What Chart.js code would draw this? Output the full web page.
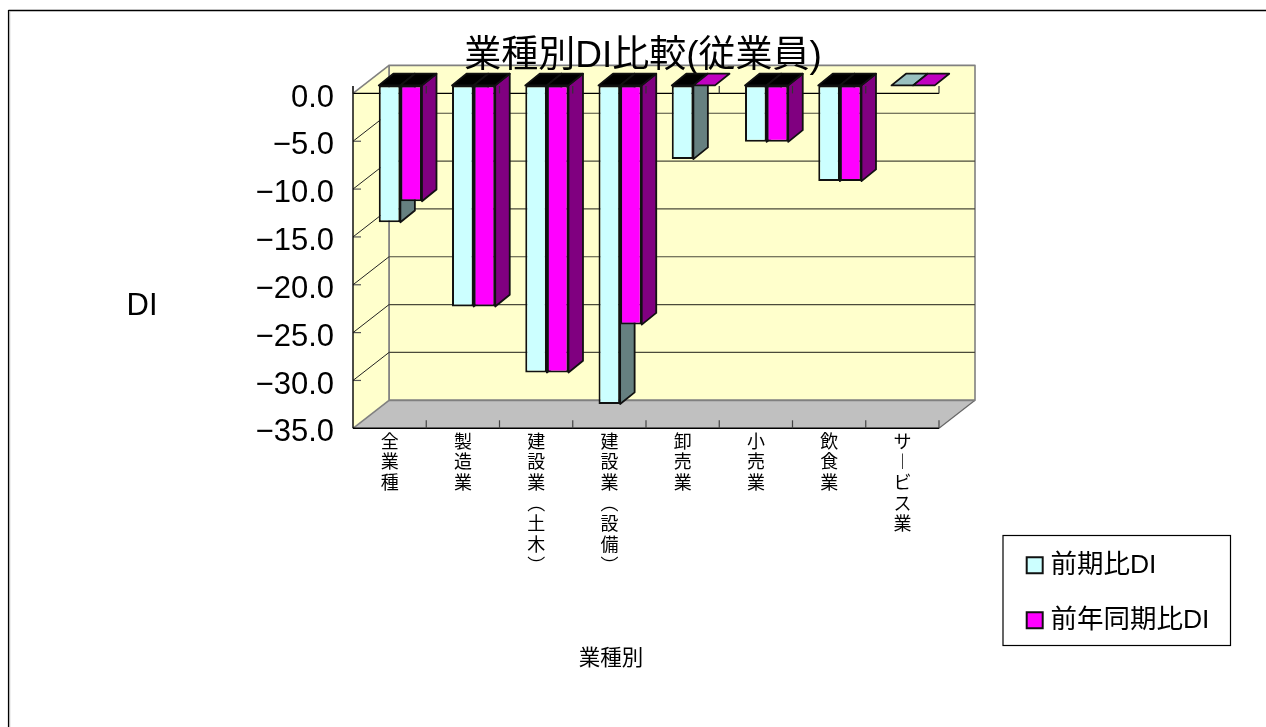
<!DOCTYPE html>
<html lang="ja"><head><meta charset="utf-8">
<style>html,body{margin:0;padding:0;background:#fff}#w{position:absolute;left:0;top:0;width:1266px;height:727px}</style>
<script src="https://cdn.jsdelivr.net/npm/chart.js@4/dist/chart.umd.min.js"></script>
</head><body><div id="w"><canvas id="c" width="1266" height="727"></canvas></div>
<script>
const categories = ['全業種','製造業','建設業(土木)','建設業(設備)','卸売業','小売業','飲食業','サービス業'];
const prevPeriodDI = [-14.3,-23.1,-30.0,-33.3,-7.7,-5.9,-10.0,0];
const prevYearDI = [-12.1,-23.1,-30.0,-25.0,0,-5.9,-10.0,0];
const seriesNames = ['前期比DI','前年同期比DI'];
const chartTitle = '業種別DI比較(従業員)';
const xTitle = '業種別';
const yTitle = 'DI';

const FONT = '"Liberation Sans","Noto Sans CJK JP",sans-serif';
const DEPTH_X = 36, DEPTH_Y = 28;      // floor/wall depth
const BAR_DX = 10.75, BAR_DY = 8;      // bar front-plane offset
const BAR_DEPTH_X = 14.5, BAR_DEPTH_Y = 11.7;
const faces = [
  {front:'#CCFFFF', side:'#668080', flat:'#99C0C0'},
  {front:'#FF00FF', side:'#800080', flat:'#C000C0'}
];
const vertical = {'(':'︵',')':'︶','ー':'︱'};

function poly(ctx, pts, fill, stroke, lw){
  ctx.beginPath();
  pts.forEach((p,i)=> i ? ctx.lineTo(p[0],p[1]) : ctx.moveTo(p[0],p[1]));
  ctx.closePath();
  if(fill){ctx.fillStyle=fill;ctx.fill();}
  if(stroke){ctx.strokeStyle=stroke;ctx.lineWidth=lw;ctx.lineJoin='round';ctx.stroke();}
}
function line(ctx,x1,y1,x2,y2,c,lw){
  ctx.beginPath();ctx.moveTo(x1,y1);ctx.lineTo(x2,y2);ctx.strokeStyle=c;ctx.lineWidth=lw;ctx.stroke();
}
function boundaries(chart){
  const s=chart.scales.x, out=[];
  const step=s.getPixelForValue(1)-s.getPixelForValue(0);
  for(let i=0;i<=categories.length;i++) out.push(s.getPixelForValue(0)-step/2+i*step);
  return out;
}
function drawBarFaces(chart,index){
  const {ctx}=chart, meta=chart.getDatasetMeta(index), f=faces[index];
  const dx=BAR_DX,dy=BAR_DY,bx=BAR_DEPTH_X,by=BAR_DEPTH_Y;
  ctx.save();
  meta.data.forEach(b=>{
    const l=b.x-b.width/2+dx, r=b.x+b.width/2+dx, t=b.base-dy, e=b.y-dy;
    const flat=Math.abs(e-t)<0.5;
    if(!flat) poly(ctx,[[r,t],[r+bx,t-by],[r+bx,e-by],[r,e]],f.side,'#111',1.8);
    poly(ctx,[[l,t],[l+bx,t-by],[r+bx,t-by],[r,t]],flat?f.flat:'#000','#111',1.8);
  });
  ctx.restore();
}
const box3d = {
  id:'box3d',
  afterLayout(chart){
    const l=chart.legend;
    const w=l.width,h=l.height;
    l.left=1003.7;l.top=523.5;l.right=l.left+w;l.bottom=l.top+h;
    const t=chart.titleBlock;
    t.left-=3;t.right-=3;
  },
  beforeDraw(chart){
    const {ctx,chartArea:a,scales:{y}}=chart;
    const dx=DEPTH_X,dy=DEPTH_Y;
    ctx.save();
    line(ctx,8.5,10.5,1266,10.5,'#000',1.5);
    line(ctx,8.5,10,8.5,727,'#000',1.2);
    line(ctx,9.7,11,9.7,727,'#aaa',1);
    poly(ctx,[[a.left+dx,a.top-dy],[a.right+dx,a.top-dy],[a.right+dx,a.bottom-dy],[a.left+dx,a.bottom-dy]],'#FFFFCC','#808080',1.6);
    poly(ctx,[[a.left,a.top],[a.left+dx,a.top-dy],[a.left+dx,a.bottom-dy],[a.left,a.bottom]],'#FFFFCC',null);
    poly(ctx,[[a.left,a.bottom],[a.left+dx,a.bottom-dy],[a.right+dx,a.bottom-dy],[a.right,a.bottom]],'#C0C0C0',null);
    line(ctx,a.left,a.top,a.left+dx,a.top-dy,'#808080',1.6);
    line(ctx,a.left,a.bottom,a.left+dx,a.bottom-dy,'#808080',1.6);
    line(ctx,a.right,a.bottom,a.right+dx,a.bottom-dy,'#666',1.2);
    line(ctx,a.left+dx,a.top-dy,a.left+dx,a.bottom-dy,'#808080',1.6);
    line(ctx,a.left+dx,a.bottom-dy,a.right+dx,a.bottom-dy,'#808080',1.8);
    y.ticks.forEach(t=>{
      if(t.value===0||t.value===-35) return;
      const p=y.getPixelForValue(t.value);
      line(ctx,a.left+dx,p-dy,a.right+dx,p-dy,'#4a4a3a',1.2);
      line(ctx,a.left,p,a.left+dx,p-dy,'#222',1);
      line(ctx,a.left,p,a.left+8,p,'#555',1.2);
    });
    line(ctx,a.left,a.top,a.right,a.top,'#000',1.2);
    line(ctx,a.left,a.bottom,a.right,a.bottom,'#000',1.6);
    line(ctx,a.left,a.top-7.5,a.left,a.bottom,'#000',1.4);
    boundaries(chart).forEach((x,i)=>{ if(i) line(ctx,x,a.bottom-8,x,a.bottom,'#444',1.2); });
    ctx.restore();
  },
  beforeDatasetDraw(chart,args){
    // The second series must paint over the first one's side face, so it is held back here
    if(args.index===1) return false;
    drawBarFaces(chart,0);
    chart.ctx.save();
    chart.ctx.translate(BAR_DX,-BAR_DY);
  },
  afterDatasetDraw(chart,args){
    const ctx=chart.ctx;
    ctx.restore();
    if(args.index===0){
      drawBarFaces(chart,1);
      ctx.save();
      ctx.translate(BAR_DX,-BAR_DY);
      chart.getDatasetMeta(1).controller.draw();
      ctx.restore();
    }
  },
  afterDatasetsDraw(chart){
    const {ctx,chartArea:a}=chart;
    ctx.save();
    boundaries(chart).forEach(x=>line(ctx,x,a.top-7.5,x,a.top,'#333',1.2));
    ctx.restore();
  },
  afterDraw(chart){
    const {ctx}=chart;
    ctx.save();
    ctx.fillStyle='#000';ctx.textAlign='center';ctx.textBaseline='middle';
    ctx.font='31px '+FONT;
    ctx.fillText(yTitle,142,306);
    ctx.font='21.5px '+FONT;
    ctx.fillText(xTitle,611,659);
    ctx.strokeStyle='#000';ctx.lineWidth=1.2;
    ctx.strokeRect(1003,535.5,227.5,110);
    ctx.restore();
  }
};
new Chart(document.getElementById('c'),{
  type:'bar',
  data:{labels:categories.map(c=>[...c].map(ch=>vertical[ch]||ch)),
    datasets:[
      {label:seriesNames[0],data:prevPeriodDI},
      {label:seriesNames[1],data:prevYearDI}
    ].map((d,i)=>({...d,backgroundColor:faces[i].front,borderColor:'#111',borderWidth:2,borderSkipped:false,clip:false,
      categoryPercentage:0.59,barPercentage:1}))},
  options:{
    responsive:false,animation:false,
    devicePixelRatio:1,
    layout:{padding:{left:0,top:35,right:1266-939,bottom:0}},
    scales:{
      x:{position:'bottom',grid:{display:false},border:{display:false},offset:true,
        afterFit(s){s.height=298.7;},
        ticks:{autoSkip:false,maxRotation:0,minRotation:0,padding:-4,color:'#000',font:{size:18,family:FONT,lineHeight:1.15}}},
      y:{min:-35,max:0,grid:{display:false},border:{display:false},
        afterFit(s){s.width=353;},
        ticks:{stepSize:5,color:'#000',padding:11,font:{size:31,family:FONT,lineHeight:0.3},
          callback:v=>['',(v<0?'\u2212':'')+Math.abs(v).toFixed(1)]}}
    },
    plugins:{
      title:{display:true,text:chartTitle,fullSize:false,color:'#000',padding:{top:0,bottom:14},font:{size:37,weight:'normal',family:FONT,lineHeight:1.2}},
      legend:{display:true,position:'chartArea',align:'start',
        labels:{usePointStyle:true,pointStyle:'rect',boxWidth:5,boxHeight:16,padding:28.5,color:'#000',font:{size:26.5,family:FONT}}},
      tooltip:{enabled:false}
    }
  },
  plugins:[box3d]
});
</script></body></html>
